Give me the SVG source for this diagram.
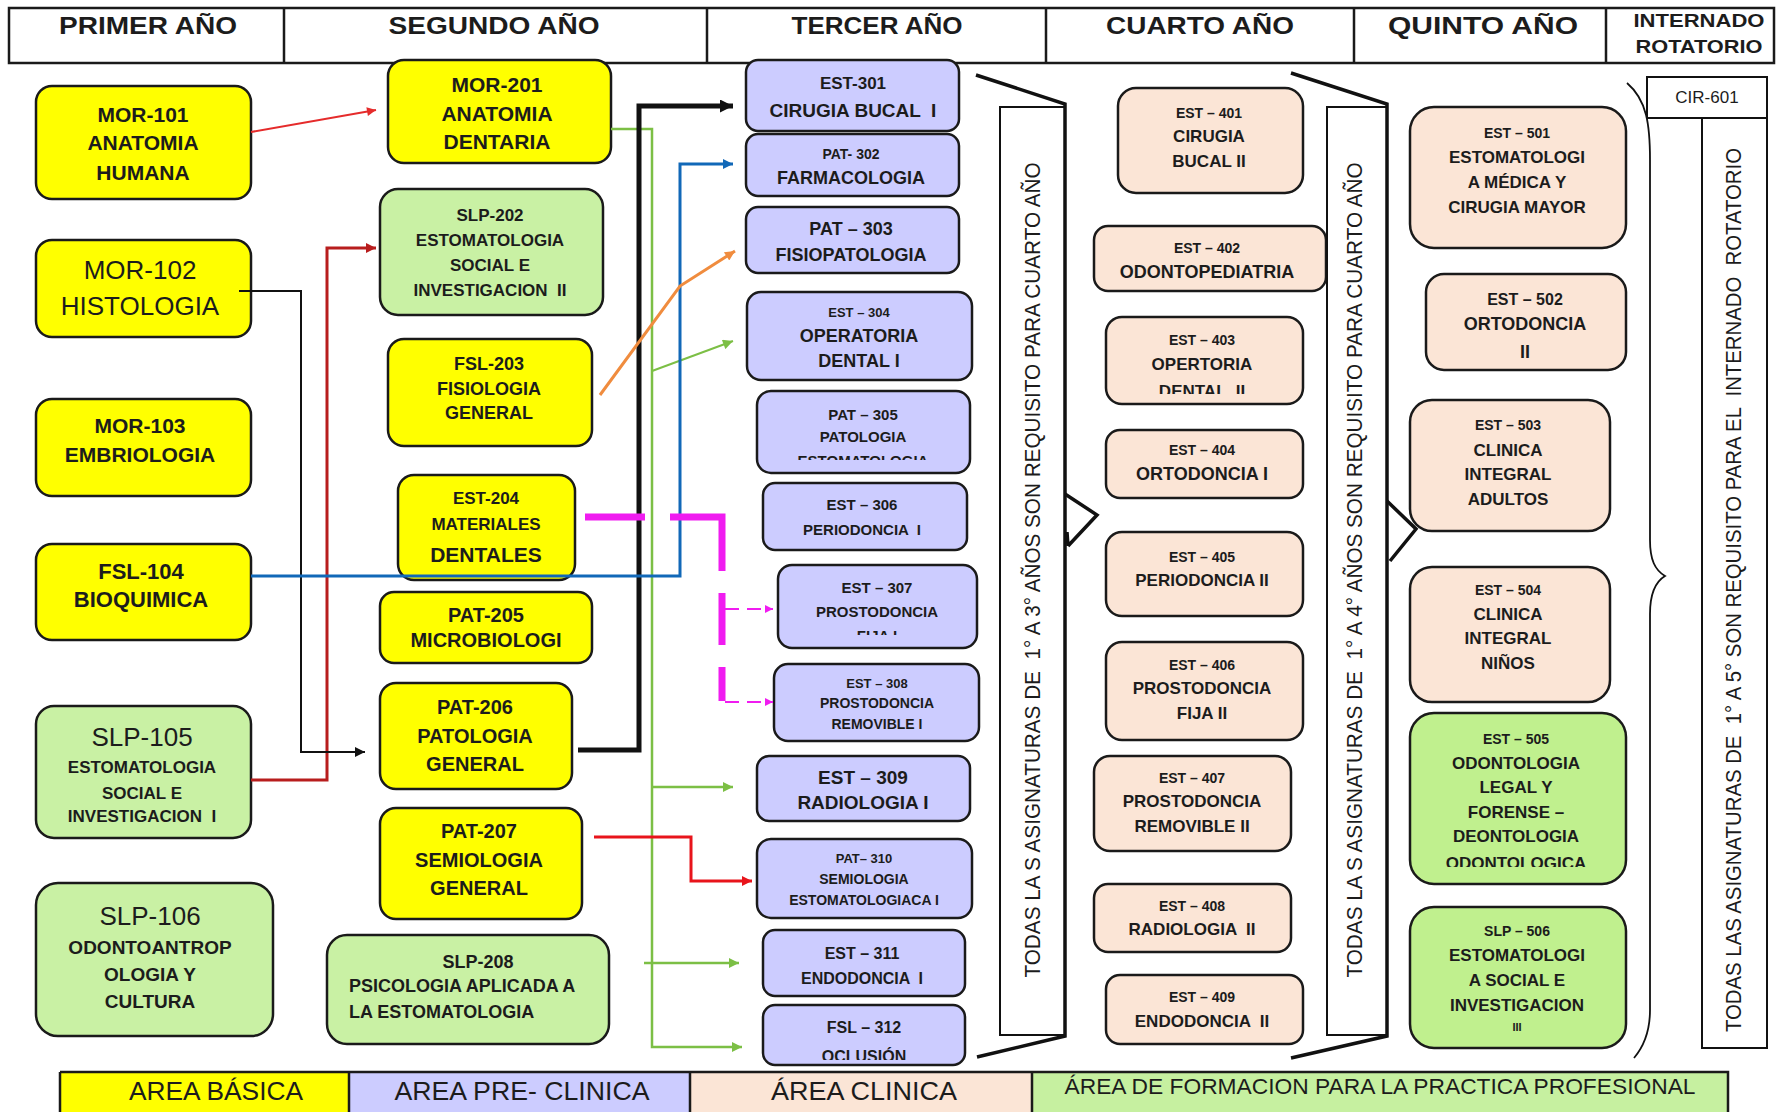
<svg xmlns="http://www.w3.org/2000/svg" width="1783" height="1112" viewBox="0 0 1783 1112">
<style>
  text { font-family: "Liberation Sans", Arial, sans-serif; font-weight: bold; text-anchor: middle; fill: #1c1c1c; }
  .reg { font-weight: normal; }
  .n { stroke: #1a1a1a; stroke-width: 2.5; }
  .y { fill: #ffff00; }
  .p { fill: #ccccff; }
  .c { fill: #fbe5d6; }
  .g { fill: #c9f1a4; }
  .g2 { fill: #c0f08e; }
  .hdr { fill: none; stroke: #1a1a1a; stroke-width: 2.5; }
  .br { fill: none; stroke: #111; stroke-width: 3.5; stroke-linejoin: miter; }
  .box { fill: #fff; stroke: #111; stroke-width: 2; }
  .w { fill: none; stroke-linejoin: miter; }
</style>
<defs>
  <marker id="aRed" viewBox="0 0 10 10" refX="10" refY="5" markerWidth="12" markerHeight="9" markerUnits="userSpaceOnUse" orient="auto"><path d="M0,0 L10,5 L0,10 z" fill="#e52b2b"/></marker>
  <marker id="aDark" viewBox="0 0 10 10" refX="10" refY="5" markerWidth="12" markerHeight="10" markerUnits="userSpaceOnUse" orient="auto"><path d="M0,0 L10,5 L0,10 z" fill="#b81d1d"/></marker>
  <marker id="aBlk" viewBox="0 0 10 10" refX="10" refY="5" markerWidth="12" markerHeight="10" markerUnits="userSpaceOnUse" orient="auto"><path d="M0,0 L10,5 L0,10 z" fill="#111"/></marker>
  <marker id="aBlk2" viewBox="0 0 10 10" refX="10" refY="5" markerWidth="16" markerHeight="13" markerUnits="userSpaceOnUse" orient="auto"><path d="M0,0 L10,5 L0,10 z" fill="#111"/></marker>
  <marker id="aGrn" viewBox="0 0 10 10" refX="10" refY="5" markerWidth="13" markerHeight="10" markerUnits="userSpaceOnUse" orient="auto"><path d="M0,0 L10,5 L0,10 z" fill="#7cbf45"/></marker>
  <marker id="aBlu" viewBox="0 0 10 10" refX="10" refY="5" markerWidth="13" markerHeight="10" markerUnits="userSpaceOnUse" orient="auto"><path d="M0,0 L10,5 L0,10 z" fill="#1168b8"/></marker>
  <marker id="aOrg" viewBox="0 0 10 10" refX="10" refY="5" markerWidth="13" markerHeight="10" markerUnits="userSpaceOnUse" orient="auto"><path d="M0,0 L10,5 L0,10 z" fill="#f08c3e"/></marker>
  <marker id="aMag" viewBox="0 0 10 10" refX="10" refY="5" markerWidth="10" markerHeight="8" markerUnits="userSpaceOnUse" orient="auto"><path d="M0,0 L10,5 L0,10 z" fill="#f01cf0"/></marker>
  <marker id="aRed2" viewBox="0 0 10 10" refX="10" refY="5" markerWidth="13" markerHeight="10" markerUnits="userSpaceOnUse" orient="auto"><path d="M0,0 L10,5 L0,10 z" fill="#e8141b"/></marker>
  <clipPath id="cl305"><rect x="757" y="391" width="213" height="69"/></clipPath>
  <clipPath id="cl307"><rect x="778" y="565" width="199" height="70"/></clipPath>
  <clipPath id="cl312"><rect x="763" y="1005" width="202" height="55"/></clipPath>
  <clipPath id="cl403"><rect x="1106" y="317" width="197" height="77"/></clipPath>
  <clipPath id="cl505"><rect x="1410" y="713" width="216" height="154"/></clipPath>
</defs>

<rect width="1783" height="1112" fill="#ffffff"/>

<!-- year header -->
<g id="header">
  <rect class="hdr" x="9" y="8" width="1765" height="55"/>
  <path class="hdr" d="M284,8 V63 M707,8 V63 M1046,8 V63 M1354,8 V63 M1606,8 V63"/>
  <text x="148" y="34" font-size="24" textLength="178" lengthAdjust="spacingAndGlyphs">PRIMER AÑO</text>
  <text x="494" y="34" font-size="24" textLength="211" lengthAdjust="spacingAndGlyphs">SEGUNDO AÑO</text>
  <text x="877" y="34" font-size="24" textLength="171" lengthAdjust="spacingAndGlyphs">TERCER AÑO</text>
  <text x="1200" y="34" font-size="24" textLength="188" lengthAdjust="spacingAndGlyphs">CUARTO AÑO</text>
  <text x="1483" y="34" font-size="24" textLength="190" lengthAdjust="spacingAndGlyphs">QUINTO AÑO</text>
  <text x="1699" y="27" font-size="18" textLength="131" lengthAdjust="spacingAndGlyphs">INTERNADO</text>
  <text x="1699" y="53" font-size="18" textLength="127" lengthAdjust="spacingAndGlyphs">ROTATORIO</text>
</g>

<!-- first year -->
<g id="mor101"><rect class="n y" x="36" y="86" width="215" height="113" rx="16"/>
  <text font-size="21"><tspan x="143" y="122">MOR-101</tspan><tspan x="143" y="150">ANATOMIA</tspan><tspan x="143" y="180">HUMANA</tspan></text></g>
<g id="mor102"><rect class="n y" x="36" y="240" width="215" height="97" rx="16"/>
  <text class="reg" font-size="26"><tspan x="140" y="279">MOR-102</tspan><tspan x="140" y="315">HISTOLOGIA</tspan></text></g>
<g id="mor103"><rect class="n y" x="36" y="399" width="215" height="97" rx="16"/>
  <text font-size="21"><tspan x="140" y="433">MOR-103</tspan><tspan x="140" y="462">EMBRIOLOGIA</tspan></text></g>
<g id="fsl104"><rect class="n y" x="36" y="544" width="215" height="96" rx="16"/>
  <text font-size="22"><tspan x="141" y="579">FSL-104</tspan><tspan x="141" y="607">BIOQUIMICA</tspan></text></g>
<g id="slp105"><rect class="n g" x="36" y="706" width="215" height="132" rx="18"/>
  <text class="reg" font-size="26" x="142" y="746">SLP-105</text>
  <text font-size="17"><tspan x="142" y="773">ESTOMATOLOGIA</tspan><tspan x="142" y="799">SOCIAL E</tspan><tspan x="142" y="822">INVESTIGACION &#160;I</tspan></text></g>
<g id="slp106"><rect class="n g" x="36" y="883" width="237" height="153" rx="22"/>
  <text class="reg" font-size="26" x="150" y="925">SLP-106</text>
  <text font-size="19"><tspan x="150" y="954">ODONTOANTROP</tspan><tspan x="150" y="981">OLOGIA Y</tspan><tspan x="150" y="1008">CULTURA</tspan></text></g>

<!-- second year -->
<g id="mor201"><rect class="n y" x="388" y="60" width="223" height="103" rx="16"/>
  <text font-size="21"><tspan x="497" y="92">MOR-201</tspan><tspan x="497" y="121">ANATOMIA</tspan><tspan x="497" y="149">DENTARIA</tspan></text></g>
<g id="slp202"><rect class="n g" x="380" y="189" width="223" height="126" rx="18"/>
  <text font-size="17"><tspan x="490" y="221">SLP-202</tspan><tspan x="490" y="246">ESTOMATOLOGIA</tspan><tspan x="490" y="271">SOCIAL E</tspan><tspan x="490" y="296">INVESTIGACION &#160;II</tspan></text></g>
<g id="fsl203"><rect class="n y" x="388" y="339" width="204" height="107" rx="16"/>
  <text font-size="18"><tspan x="489" y="370">FSL-203</tspan><tspan x="489" y="395">FISIOLOGIA</tspan><tspan x="489" y="419">GENERAL</tspan></text></g>
<g id="est204"><rect class="n y" x="398" y="475" width="177" height="105" rx="16"/>
  <text font-size="17"><tspan x="486" y="504">EST-204</tspan><tspan x="486" y="530">MATERIALES</tspan><tspan x="486" y="562" font-size="21">DENTALES</tspan></text></g>
<g id="pat205"><rect class="n y" x="380" y="592" width="212" height="71" rx="14"/>
  <text font-size="20"><tspan x="486" y="622">PAT-205</tspan><tspan x="486" y="647">MICROBIOLOGI</tspan></text></g>
<g id="pat206"><rect class="n y" x="380" y="683" width="192" height="106" rx="16"/>
  <text font-size="20"><tspan x="475" y="714">PAT-206</tspan><tspan x="475" y="743">PATOLOGIA</tspan><tspan x="475" y="771">GENERAL</tspan></text></g>
<g id="pat207"><rect class="n y" x="380" y="808" width="202" height="111" rx="16"/>
  <text font-size="20"><tspan x="479" y="838">PAT-207</tspan><tspan x="479" y="867">SEMIOLOGIA</tspan><tspan x="479" y="895">GENERAL</tspan></text></g>
<g id="slp208"><rect class="n g" x="327" y="935" width="282" height="109" rx="20"/>
  <text font-size="18" x="478" y="968">SLP-208</text>
  <text font-size="18" style="text-anchor:start"><tspan x="349" y="992">PSICOLOGIA APLICADA A</tspan><tspan x="349" y="1018">LA ESTOMATOLOGIA</tspan></text></g>

<!-- third year -->
<g id="est301"><rect class="n p" x="746" y="60" width="213" height="71" rx="12"/>
  <text><tspan x="853" y="89" font-size="17">EST-301</tspan><tspan x="853" y="117" font-size="19">CIRUGIA BUCAL &#160;I</tspan></text></g>
<g id="pat302"><rect class="n p" x="746" y="134" width="213" height="62" rx="12"/>
  <text><tspan x="851" y="159" font-size="14">PAT- 302</tspan><tspan x="851" y="184" font-size="18">FARMACOLOGIA</tspan></text></g>
<g id="pat303"><rect class="n p" x="746" y="207" width="213" height="66" rx="12"/>
  <text font-size="18"><tspan x="851" y="235">PAT – 303</tspan><tspan x="851" y="261">FISIOPATOLOGIA</tspan></text></g>
<g id="est304"><rect class="n p" x="747" y="292" width="225" height="88" rx="14"/>
  <text><tspan x="859" y="317" font-size="13">EST – 304</tspan><tspan x="859" y="342" font-size="18">OPERATORIA</tspan><tspan x="859" y="367" font-size="18">DENTAL I</tspan></text></g>
<g id="pat305"><rect class="n p" x="757" y="391" width="213" height="82" rx="14"/>
  <text font-size="15" clip-path="url(#cl305)"><tspan x="863" y="420">PAT – 305</tspan><tspan x="863" y="442">PATOLOGIA</tspan><tspan x="863" y="466">ESTOMATOLOGIA</tspan></text></g>
<g id="est306"><rect class="n p" x="763" y="483" width="204" height="67" rx="12"/>
  <text font-size="15"><tspan x="862" y="510">EST – 306</tspan><tspan x="862" y="535">PERIODONCIA &#160;I</tspan></text></g>
<g id="est307"><rect class="n p" x="778" y="565" width="199" height="83" rx="14"/>
  <text font-size="15" clip-path="url(#cl307)"><tspan x="877" y="593">EST – 307</tspan><tspan x="877" y="617">PROSTODONCIA</tspan><tspan x="877" y="641">FIJA I</tspan></text></g>
<g id="est308"><rect class="n p" x="774" y="664" width="205" height="77" rx="14"/>
  <text font-size="14"><tspan x="877" y="688" font-size="13">EST – 308</tspan><tspan x="877" y="708">PROSTODONCIA</tspan><tspan x="877" y="729">REMOVIBLE I</tspan></text></g>
<g id="est309"><rect class="n p" x="757" y="756" width="213" height="65" rx="12"/>
  <text font-size="19"><tspan x="863" y="784">EST – 309</tspan><tspan x="863" y="809">RADIOLOGIA I</tspan></text></g>
<g id="pat310"><rect class="n p" x="757" y="839" width="215" height="79" rx="14"/>
  <text font-size="14"><tspan x="864" y="863" font-size="13">PAT– 310</tspan><tspan x="864" y="884">SEMIOLOGIA</tspan><tspan x="864" y="905">ESTOMATOLOGIACA I</tspan></text></g>
<g id="est311"><rect class="n p" x="763" y="930" width="202" height="66" rx="12"/>
  <text font-size="16"><tspan x="862" y="959">EST – 311</tspan><tspan x="862" y="984">ENDODONCIA &#160;I</tspan></text></g>
<g id="fsl312"><rect class="n p" x="763" y="1005" width="202" height="60" rx="12"/>
  <text font-size="16" clip-path="url(#cl312)"><tspan x="864" y="1033">FSL – 312</tspan><tspan x="864" y="1062">OCLUSIÓN</tspan></text></g>

<!-- requirement bracket: first to third year -->
<g id="req3">
  <rect class="box" x="1000" y="107" width="65" height="928"/>
  <path class="br" d="M976,75 L1065,104 V1036 L977,1057"/>
  <path class="br" d="M1065,494 L1097,515 L1068,546 M1068,546 L1067,532" stroke-width="3"/>
  <text class="reg" font-size="22" textLength="815" lengthAdjust="spacingAndGlyphs" transform="translate(1032,570) rotate(-90)" y="8">TODAS LA S ASIGNATURAS DE &#160;1° A 3° AÑOS SON REQUISITO PARA CUARTO AÑO</text>
</g>

<!-- fourth year -->
<g id="est401"><rect class="n c" x="1118" y="88" width="185" height="105" rx="18"/>
  <text><tspan x="1209" y="118" font-size="14">EST – 401</tspan><tspan x="1209" y="142" font-size="17">CIRUGIA</tspan><tspan x="1209" y="167" font-size="17">BUCAL II</tspan></text></g>
<g id="est402"><rect class="n c" x="1094" y="226" width="232" height="65" rx="14"/>
  <text><tspan x="1207" y="253" font-size="14">EST – 402</tspan><tspan x="1207" y="278" font-size="18">ODONTOPEDIATRIA</tspan></text></g>
<g id="est403"><rect class="n c" x="1106" y="317" width="197" height="87" rx="16"/>
  <text clip-path="url(#cl403)"><tspan x="1202" y="345" font-size="14">EST – 403</tspan><tspan x="1202" y="370" font-size="17">OPERTORIA</tspan><tspan x="1202" y="397" font-size="17">DENTAL &#160;II</tspan></text></g>
<g id="est404"><rect class="n c" x="1106" y="430" width="197" height="68" rx="14"/>
  <text><tspan x="1202" y="455" font-size="14">EST – 404</tspan><tspan x="1202" y="480" font-size="18">ORTODONCIA I</tspan></text></g>
<g id="est405"><rect class="n c" x="1106" y="532" width="197" height="84" rx="16"/>
  <text><tspan x="1202" y="562" font-size="14">EST – 405</tspan><tspan x="1202" y="586" font-size="17">PERIODONCIA II</tspan></text></g>
<g id="est406"><rect class="n c" x="1106" y="642" width="197" height="98" rx="16"/>
  <text><tspan x="1202" y="670" font-size="14">EST – 406</tspan><tspan x="1202" y="694" font-size="17">PROSTODONCIA</tspan><tspan x="1202" y="719" font-size="17">FIJA II</tspan></text></g>
<g id="est407"><rect class="n c" x="1094" y="756" width="197" height="95" rx="16"/>
  <text><tspan x="1192" y="783" font-size="14">EST – 407</tspan><tspan x="1192" y="807" font-size="17">PROSTODONCIA</tspan><tspan x="1192" y="832" font-size="17">REMOVIBLE II</tspan></text></g>
<g id="est408"><rect class="n c" x="1094" y="884" width="197" height="68" rx="14"/>
  <text><tspan x="1192" y="911" font-size="14">EST – 408</tspan><tspan x="1192" y="935" font-size="17">RADIOLOGIA &#160;II</tspan></text></g>
<g id="est409"><rect class="n c" x="1106" y="975" width="197" height="69" rx="14"/>
  <text><tspan x="1202" y="1002" font-size="14">EST – 409</tspan><tspan x="1202" y="1027" font-size="17">ENDODONCIA &#160;II</tspan></text></g>

<!-- requirement bracket: first to fourth year -->
<g id="req4">
  <rect class="box" x="1327" y="107" width="60" height="928"/>
  <path class="br" d="M1291,73 L1387,104 V1036 L1291,1058"/>
  <path class="br" d="M1387,501 L1416,529 L1390,561" stroke-width="3"/>
  <text class="reg" font-size="22" textLength="815" lengthAdjust="spacingAndGlyphs" transform="translate(1354,570) rotate(-90)" y="8">TODAS LA S ASIGNATURAS DE &#160;1° A 4° AÑOS SON REQUISITO PARA CUARTO AÑO</text>
</g>

<!-- fifth year -->
<g id="est501"><rect class="n c" x="1410" y="107" width="216" height="141" rx="24"/>
  <text><tspan x="1517" y="138" font-size="14">EST – 501</tspan><tspan x="1517" y="163" font-size="17">ESTOMATOLOGI</tspan><tspan x="1517" y="188" font-size="17">A MÉDICA Y</tspan><tspan x="1517" y="213" font-size="17">CIRUGIA MAYOR</tspan></text></g>
<g id="est502"><rect class="n c" x="1426" y="274" width="200" height="96" rx="18"/>
  <text><tspan x="1525" y="305" font-size="16">EST – 502</tspan><tspan x="1525" y="330" font-size="18">ORTODONCIA</tspan><tspan x="1525" y="358" font-size="18">II</tspan></text></g>
<g id="est503"><rect class="n c" x="1410" y="400" width="200" height="131" rx="22"/>
  <text><tspan x="1508" y="430" font-size="14">EST – 503</tspan><tspan x="1508" y="456" font-size="17">CLINICA</tspan><tspan x="1508" y="480" font-size="17">INTEGRAL</tspan><tspan x="1508" y="505" font-size="17">ADULTOS</tspan></text></g>
<g id="est504"><rect class="n c" x="1410" y="567" width="200" height="135" rx="22"/>
  <text><tspan x="1508" y="595" font-size="14">EST – 504</tspan><tspan x="1508" y="620" font-size="17">CLINICA</tspan><tspan x="1508" y="644" font-size="17">INTEGRAL</tspan><tspan x="1508" y="669" font-size="17">NIÑOS</tspan></text></g>
<g id="est505"><rect class="n g2" x="1410" y="713" width="216" height="171" rx="24"/>
  <text clip-path="url(#cl505)"><tspan x="1516" y="744" font-size="14">EST – 505</tspan><tspan x="1516" y="769" font-size="17">ODONTOLOGIA</tspan><tspan x="1516" y="793" font-size="17">LEGAL Y</tspan><tspan x="1516" y="818" font-size="17">FORENSE –</tspan><tspan x="1516" y="842" font-size="17">DEONTOLOGIA</tspan><tspan x="1516" y="869" font-size="17">ODONTOLOGICA</tspan></text></g>
<g id="slp506"><rect class="n g2" x="1410" y="907" width="216" height="141" rx="24"/>
  <text><tspan x="1517" y="936" font-size="14">SLP – 506</tspan><tspan x="1517" y="961" font-size="17">ESTOMATOLOGI</tspan><tspan x="1517" y="986" font-size="17">A SOCIAL E</tspan><tspan x="1517" y="1011" font-size="17">INVESTIGACION</tspan><tspan x="1517" y="1031" font-size="11">III</tspan></text></g>

<!-- brace and internship requirement -->
<g id="req5">
  <path d="M1627,83 C1647,100 1650,125 1650,160 L1650,540 C1650,560 1655,570 1665,576 C1655,582 1650,594 1650,614 L1650,1010 C1650,1030 1645,1045 1634,1058" fill="none" stroke="#111" stroke-width="1.8"/>
  <rect class="box" x="1702" y="118" width="65" height="930"/>
  <text class="reg" font-size="22" textLength="884" lengthAdjust="spacingAndGlyphs" transform="translate(1733,590) rotate(-90)" y="8">TODAS LAS ASIGNATURAS DE &#160;1° A 5° SON REQUISITO PARA EL &#160;INTERNADO &#160;ROTATORIO</text>
</g>
<g id="cir601">
  <rect class="box" x="1647" y="77" width="120" height="41"/>
  <text class="reg" font-size="17" x="1707" y="103">CIR-601</text>
</g>

<!-- prerequisite connectors -->
<g id="connectors">
  <path class="w" d="M251,132 L376,110" stroke="#e52b2b" stroke-width="2" marker-end="url(#aRed)"/>
  <path class="w" d="M251,780 H327 V248 H376" stroke="#b81d1d" stroke-width="3" marker-end="url(#aDark)"/>
  <path class="w" d="M239,291 H301 V752 H365" stroke="#111" stroke-width="2" marker-end="url(#aBlk)"/>
  <path class="w" d="M611,129 H652 V1047 H742" stroke="#7cbf45" stroke-width="2.5" marker-end="url(#aGrn)"/>
  <path class="w" d="M652,371 L733,341" stroke="#7cbf45" stroke-width="2" marker-end="url(#aGrn)"/>
  <path class="w" d="M652,787 H733" stroke="#7cbf45" stroke-width="2.5" marker-end="url(#aGrn)"/>
  <path class="w" d="M644,963 H739" stroke="#7cbf45" stroke-width="2.5" marker-end="url(#aGrn)"/>
  <path class="w" d="M578,750 H639 V106 H733" stroke="#111" stroke-width="5" marker-end="url(#aBlk2)"/>
  <path class="w" d="M251,576 H680 V164 H733" stroke="#1168b8" stroke-width="3" marker-end="url(#aBlu)"/>
  <path class="w" d="M600,395 L680,286 L735,251" stroke="#f08c3e" stroke-width="3" marker-end="url(#aOrg)"/>
  <path class="w" d="M585,517 H722 V701" stroke="#f01cf0" stroke-width="7" stroke-dasharray="60 25 106 22 52 22 40"/>
  <path class="w" d="M725,609 H773" stroke="#f01cf0" stroke-width="2" stroke-dasharray="14 8" marker-end="url(#aMag)"/>
  <path class="w" d="M725,702 H773" stroke="#f01cf0" stroke-width="2" stroke-dasharray="14 8" marker-end="url(#aMag)"/>
  <path class="w" d="M594,837 H691 V881 H752" stroke="#e8141b" stroke-width="3" marker-end="url(#aRed2)"/>
</g>

<!-- area legend -->
<g id="legend">
  <rect x="60" y="1072" width="289" height="40" fill="#ffff00"/>
  <rect x="349" y="1072" width="341" height="40" fill="#ccccff"/>
  <rect x="690" y="1072" width="342" height="40" fill="#fbe5d6"/>
  <rect x="1032" y="1072" width="696" height="40" fill="#c6f0a0"/>
  <path d="M60,1072 H1728 V1112 M60,1072 V1112 M349,1072 V1112 M690,1072 V1112 M1032,1072 V1112" fill="none" stroke="#1a1a1a" stroke-width="2.5"/>
  <text class="reg" font-size="26" x="216" y="1100" textLength="174" lengthAdjust="spacingAndGlyphs">AREA BÁSICA</text>
  <text class="reg" font-size="26" x="522" y="1100" textLength="255" lengthAdjust="spacingAndGlyphs">AREA PRE- CLINICA</text>
  <text class="reg" font-size="26" x="864" y="1100" textLength="186" lengthAdjust="spacingAndGlyphs">ÁREA CLINICA</text>
  <text class="reg" font-size="22" x="1380" y="1094" textLength="631" lengthAdjust="spacingAndGlyphs">ÁREA DE FORMACION PARA LA PRACTICA PROFESIONAL</text>
</g>
</svg>
